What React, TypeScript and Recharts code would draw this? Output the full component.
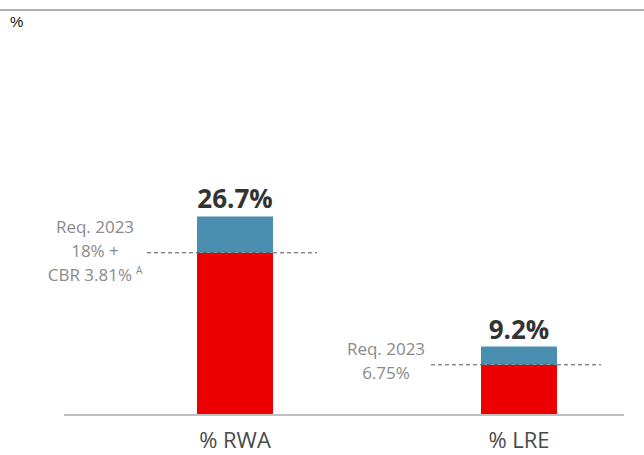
import { BarChart, Bar, XAxis, YAxis, LabelList } from 'recharts'

const categories = ['% RWA', '% LRE']
const totals = [26.7, 9.2]
const requirements = [21.81, 6.75]
const totalLabels = ['26.7%', '9.2%']
const reqLabels = [
  ['Req. 2023', '18% +', 'CBR 3.81%'],
  ['Req. 2023', '6.75%'],
]
const reqFootnotes = ['A', '']

const RED = '#ec0000'
const BLUE = '#4a8fb0'
const FONT = '"Open Sans", "Noto Sans", sans-serif'

const data = categories.map((name, i) => ({
  name,
  req: requirements[i],
  buffer: +(totals[i] - requirements[i]).toFixed(2),
  label: totalLabels[i],
}))

// dashed requirement line + grey text to the left of each bar
// eslint-disable-next-line @typescript-eslint/no-explicit-any
function ReqMarker(props: any) {
  const { x, y, width, index } = props
  const lines = reqLabels[index]
  const foot = reqFootnotes[index]
  const cx = x - (index === 0 ? 102 : 95)
  const lineH = 24
  const startY = y - ((lines.length - 1) * lineH) / 2 + (index === 0 ? 4 : 2)
  return (
    <g>
      <line
        x1={x - 50}
        x2={x + width + 44}
        y1={y}
        y2={y}
        stroke="#555"
        strokeWidth={1}
        strokeDasharray="4 3"
      />
      {lines.map((t, i) => (
        <text
          key={i}
          x={cx}
          y={startY + i * lineH}
          textAnchor="middle"
          fontFamily={FONT}
          fontSize={17}
          fill="#8a8a8a"
        >
          {t}
          {i === lines.length - 1 && foot ? (
            <tspan fontSize={10} dx={4} dy={-7}>{foot}</tspan>
          ) : null}
        </text>
      ))}
    </g>
  )
}

export default function App() {
  return (
    <div style={{ position: 'absolute', left: 0, top: 0, width: 644, height: 455, background: '#fff', fontFamily: FONT }}>
      <div style={{ position: 'absolute', left: 0, top: 9, width: 644, height: 2, background: '#b0b0b0' }} />
      <div style={{ position: 'absolute', left: 10, top: 13, fontSize: 15, color: '#111', fontFamily: '"Liberation Sans", Arial, sans-serif' }}>%</div>
      <div style={{ position: 'absolute', left: 0, top: 0 }}>
        <BarChart
          width={644}
          height={455}
          data={data}
          margin={{ top: 177, right: 20, bottom: 0, left: 64 }}
          barSize={76}
        >
          <XAxis
            dataKey="name"
            height={40}
            padding={{ left: 29, right: -37 }}
            axisLine={{ stroke: '#c0c0c0', strokeWidth: 2 }}
            tickLine={false}
            tick={{ fontSize: 22, fill: '#4a4a4a', fontFamily: FONT }}
            tickMargin={11}
          />
          <YAxis hide domain={[0, 32]} />
          <Bar dataKey="req" stackId="a" fill={RED} isAnimationActive={false}>
            <LabelList dataKey="req" content={<ReqMarker />} />
          </Bar>
          <Bar dataKey="buffer" stackId="a" fill={BLUE} isAnimationActive={false}>
            <LabelList
              dataKey="label"
              position="top"
              offset={8}
              style={{ fontSize: 26, fontWeight: 700, fill: '#333', fontFamily: FONT }}
            />
          </Bar>
        </BarChart>
      </div>
    </div>
  )
}
